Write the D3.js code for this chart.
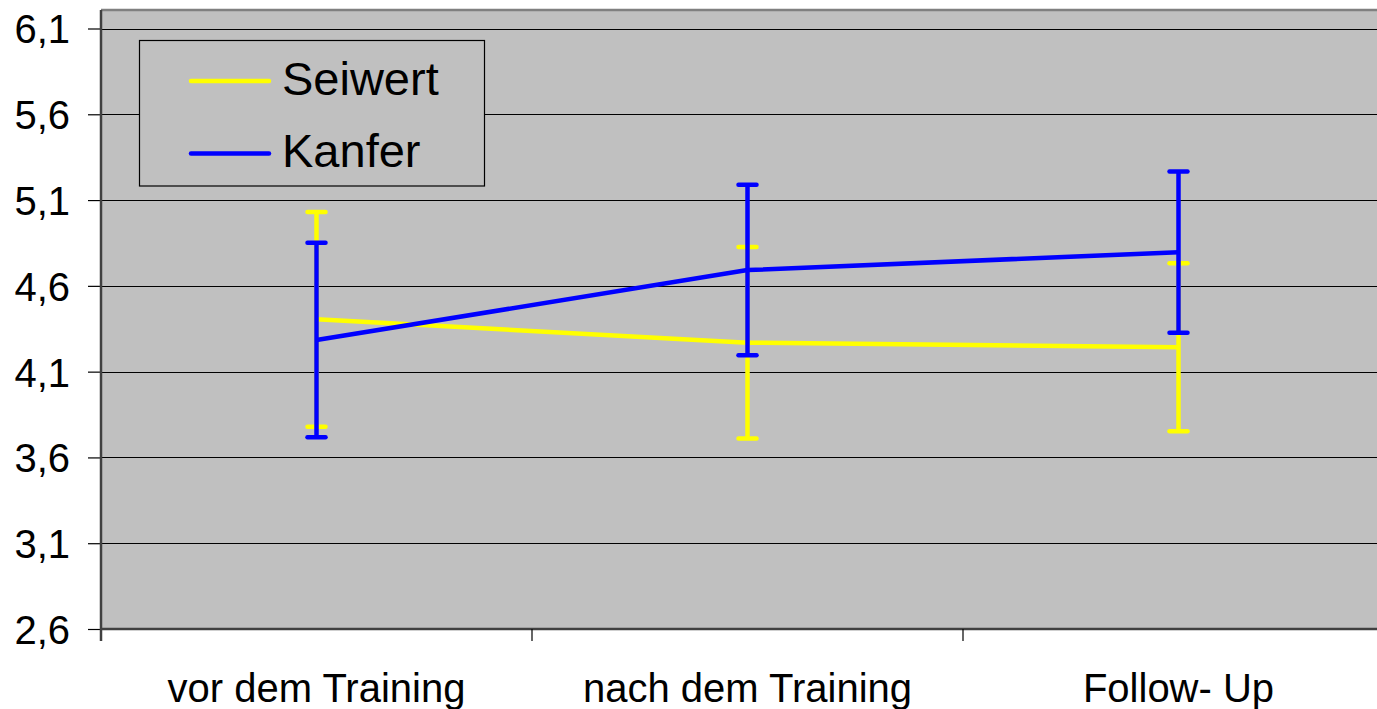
<!DOCTYPE html>
<html>
<head>
<meta charset="utf-8">
<script src="https://cdn.jsdelivr.net/npm/d3@7"></script>
<style>
  body { margin: 0; background: #fff; }
  svg { display: block; font-family: "Liberation Sans", Arial, sans-serif; }
</style>
</head>
<body>
<svg id="chart" width="1377" height="709"></svg>
<script>
// data
var categories = ["vor dem Training", "nach dem Training", "Follow- Up"];
var seriesNames = ["Seiwert", "Kanfer"];
var seiwertMean = [4.405, 4.269, 4.242];
var seiwertErr = [0.626, 0.558, 0.49];
var kanferMean = [4.284, 4.692, 4.796];
var kanferErr = [0.567, 0.497, 0.47];
var yTicks = [2.6, 3.1, 3.6, 4.1, 4.6, 5.1, 5.6, 6.1];

var series = [
  {name: seriesNames[0], mean: seiwertMean, err: seiwertErr, color: "#ffff00"},
  {name: seriesNames[1], mean: kanferMean, err: kanferErr, color: "#0000ff"}
];

var left = 101, step = 431;
var yMin = 2.6, yMax = 6.208;

var svg = d3.select("#chart");

var x = d3.scaleBand()
  .domain(categories)
  .range([left, left + step * categories.length]);

var y = d3.scaleLinear()
  .domain([2.6, 6.1])
  .range([629, 28.5]);

var right = x.range()[1];

// plot area
svg.append("rect")
  .attr("x", left)
  .attr("y", y(yMax))
  .attr("width", right - left)
  .attr("height", y(yMin) - y(yMax))
  .attr("fill", "#c0c0c0");

// top border
svg.append("line")
  .attr("x1", left).attr("x2", right)
  .attr("y1", y(yMax)).attr("y2", y(yMax))
  .attr("stroke", "#808080")
  .attr("stroke-width", 2.5);

// gridlines
svg.append("g")
  .selectAll("line")
  .data(yTicks.slice(1))
  .enter()
  .append("line")
    .attr("x1", left).attr("x2", right)
    .attr("y1", d => Math.round(y(d)) + 0.5)
    .attr("y2", d => Math.round(y(d)) + 0.5)
    .attr("stroke", "#000")
    .attr("stroke-width", 1.2);

// y axis
var yAxis = svg.append("g")
  .attr("transform", "translate(" + left + ",0)")
  .call(d3.axisLeft(y)
    .tickValues(yTicks)
    .tickSize(13)
    .tickPadding(18)
    .tickFormat(d => d3.format(".1f")(d).replace(".", ",")));

yAxis.select(".domain").remove();
yAxis.selectAll(".tick line").attr("stroke", "#000").attr("stroke-width", 1.2);
yAxis.selectAll(".tick text")
  .attr("fill", "#000")
  .attr("font-size", 40)
  .attr("dy", "0.36em");

// axis lines
svg.append("line")
  .attr("x1", left).attr("x2", left)
  .attr("y1", y(yMax)).attr("y2", 641)
  .attr("stroke", "#404040")
  .attr("stroke-width", 2.5);

svg.append("line")
  .attr("x1", left).attr("x2", right)
  .attr("y1", y(yMin)).attr("y2", y(yMin))
  .attr("stroke", "#404040")
  .attr("stroke-width", 2.5);

// x ticks between categories
svg.append("g")
  .selectAll("line")
  .data(categories.slice(1))
  .enter()
  .append("line")
    .attr("x1", d => x(d)).attr("x2", d => x(d))
    .attr("y1", y(yMin)).attr("y2", 641)
    .attr("stroke", "#000")
    .attr("stroke-width", 1.2);

// x labels
svg.append("g")
  .selectAll("text")
  .data(categories)
  .enter()
  .append("text")
    .attr("x", d => x(d) + x.bandwidth() / 2)
    .attr("y", 702)
    .attr("text-anchor", "middle")
    .attr("font-size", 40)
    .text(d => d);

// series: line, then error bars
var line = d3.line()
  .x((d, i) => x(categories[i]) + x.bandwidth() / 2)
  .y(d => y(d));

var cap = 9;

series.forEach(function(s) {
  var g = svg.append("g");

  g.append("path")
    .attr("d", line(s.mean))
    .attr("fill", "none")
    .attr("stroke", s.color)
    .attr("stroke-width", 4.5)
    .attr("stroke-linejoin", "round");

  var bars = g.selectAll(".bar")
    .data(s.mean.map((m, i) => ({cat: categories[i], m: m, e: s.err[i]})))
    .enter()
    .append("g")
      .attr("class", "bar")
      .attr("stroke", s.color)
      .attr("stroke-width", 4.5)
      .attr("stroke-linecap", "round");

  bars.append("line")
    .attr("x1", d => x(d.cat) + x.bandwidth() / 2)
    .attr("x2", d => x(d.cat) + x.bandwidth() / 2)
    .attr("y1", d => y(d.m + d.e))
    .attr("y2", d => y(d.m - d.e))
    .attr("stroke-linecap", "butt");

  [1, -1].forEach(function(sign) {
    bars.append("line")
      .attr("x1", d => x(d.cat) + x.bandwidth() / 2 - cap)
      .attr("x2", d => x(d.cat) + x.bandwidth() / 2 + cap)
      .attr("y1", d => y(d.m + sign * d.e))
      .attr("y2", d => y(d.m + sign * d.e));
  });
});

// legend
var legend = svg.append("g");

legend.append("rect")
  .attr("x", 139.5).attr("y", 40.5)
  .attr("width", 345).attr("height", 145.5)
  .attr("fill", "#c0c0c0")
  .attr("stroke", "#000")
  .attr("stroke-width", 1.2);

var items = legend.selectAll(".item")
  .data(series)
  .enter()
  .append("g")
    .attr("class", "item")
    .attr("transform", (d, i) => "translate(0," + (i * 72.5) + ")");

items.append("line")
  .attr("x1", 191).attr("x2", 269)
  .attr("y1", 81).attr("y2", 81)
  .attr("stroke", d => d.color)
  .attr("stroke-width", 4.5)
  .attr("stroke-linecap", "round");

items.append("text")
  .attr("x", 282)
  .attr("y", 94.5)
  .attr("font-size", 47)
  .text(d => d.name);
</script>
</body>
</html>
